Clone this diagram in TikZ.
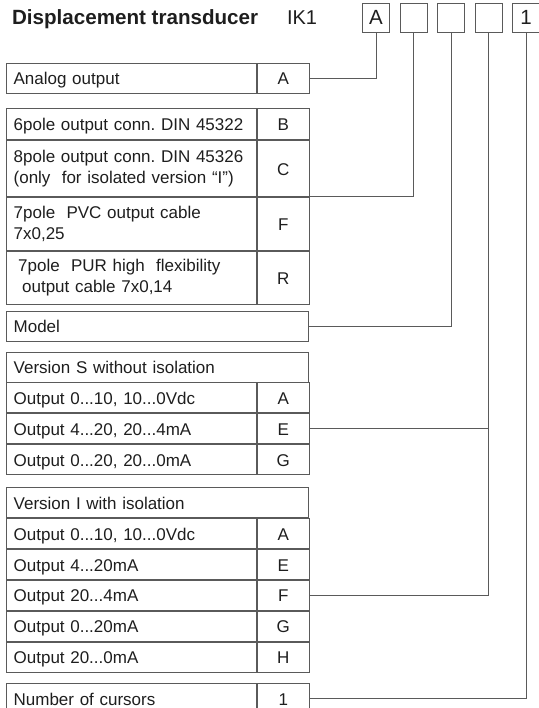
\documentclass[tikz,border=0pt]{standalone}
\usepackage{fontspec}
\setmainfont{Liberation Sans}
\usepackage{tikz}
\usetikzlibrary{positioning}
\definecolor{rule}{HTML}{5A5A5A}
\definecolor{ink}{HTML}{1E1E1E}
\frenchspacing

\begin{document}
\begin{tikzpicture}[x=1pt,y=-1pt,node distance=37.5pt,
  every node/.style={text=ink,font=\fontsize{17}{21}\selectfont},
  cell/.style={draw=rule,line width=.9pt,anchor=north west,inner ysep=0pt},
  twoline/.style={cell,minimum width=250pt,minimum height=#1,text width=235pt,inner xsep=7.5pt,align=left},
  desc/.style={twoline=#1,text height=13pt,text depth=0pt},
  desc/.default=30pt,
  wide/.style={desc,minimum width=302.6pt,text width=287.6pt},
  code/.style={cell,minimum width=52.6pt,minimum height=#1,inner xsep=0pt,text height=13pt,text depth=0pt},
  code/.default=30pt,
  digit/.style={draw=rule,line width=.9pt,minimum width=27pt,minimum height=29pt,inner sep=0pt,font=\fontsize{20.5}{24}\selectfont},
  wire/.style={draw=rule,line width=.9pt}]
\useasboundingbox (0,0) rectangle (538,708);
\node[anchor=base west,font=\bfseries\fontsize{20.6}{24}\selectfont] (title) at (8.5,25) {Displacement transducer};
\node[anchor=base west,font=\fontsize{20}{24}\selectfont] (ik) at (283.5,25) {IK1};
\node[digit] (d1) at (376,17.75) {A};
\node[digit,right of=d1] (d2) {};
\node[digit,right of=d2] (d3) {};
\node[digit,right of=d3] (d4) {};
\node[digit,right of=d4] (d5) {1};

\node[desc] (an) at (5.7,62.7) {Analog output};
\node[code] (anc) at (an.north east) {A};

\node[desc=31pt] (cB) at (5.7,108.5) {6pole output conn. DIN 45322};
\node[code=31pt] (cBc) at (cB.north east) {B};
\node[twoline=55.5pt] (cC) at (cB.south west) {8pole output conn. DIN 45326\\(only\ \ for isolated version “I”)};
\node[code=55.5pt] (cCc) at (cC.north east) {C};
\node[twoline=53pt] (cF) at (cC.south west) {7pole\ \ PVC output cable\\7x0,25};
\node[code=53pt] (cFc) at (cF.north east) {F};
\node[twoline=53pt] (cR) at (cF.south west) {\hspace*{4.5pt}7pole\ \ PUR high\ \ flexibility\\\hspace*{8.5pt}output cable 7x0,14};
\node[code=53pt] (cRc) at (cR.north east) {R};

\node[wide] (mo) at (5.7,311) {Model};

\node[wide] (vs) at (5.7,351.5) {Version S without isolation};
\node[desc] (sA) at (vs.south west) {Output 0...10, 10...0Vdc};
\node[code] (sAc) at (sA.north east) {A};
\node[desc] (sE) at (sA.south west) {Output 4...20, 20...4mA};
\node[code] (sEc) at (sE.north east) {E};
\node[desc] (sG) at (sE.south west) {Output 0...20, 20...0mA};
\node[code] (sGc) at (sG.north east) {G};

\node[wide] (vi) at (5.7,487.3) {Version I with isolation};
\node[desc] (iA) at (vi.south west) {Output 0...10, 10...0Vdc};
\node[code] (iAc) at (iA.north east) {A};
\node[desc] (iE) at (iA.south west) {Output 4...20mA};
\node[code] (iEc) at (iE.north east) {E};
\node[desc] (iF) at (iE.south west) {Output 20...4mA};
\node[code] (iFc) at (iF.north east) {F};
\node[desc] (iG) at (iF.south west) {Output 0...20mA};
\node[code] (iGc) at (iG.north east) {G};
\node[desc] (iH) at (iG.south west) {Output 20...0mA};
\node[code] (iHc) at (iH.north east) {H};

\node[desc] (nu) at (5.7,683.3) {Number of cursors};
\node[code] (nuc) at (nu.north east) {1};

\draw[wire] (d1.south) |- (anc.east);
\draw[wire] (d2.south) |- (cCc.south east);
\draw[wire] (d3.south) |- (mo.east);
\draw[wire] (d4.south) |- (iFc.east);
\draw[wire] (sEc.east) -- (sEc.east -| d4.south);
\draw[wire] (d5.south) |- (nuc.east);
\end{tikzpicture}
\end{document}
